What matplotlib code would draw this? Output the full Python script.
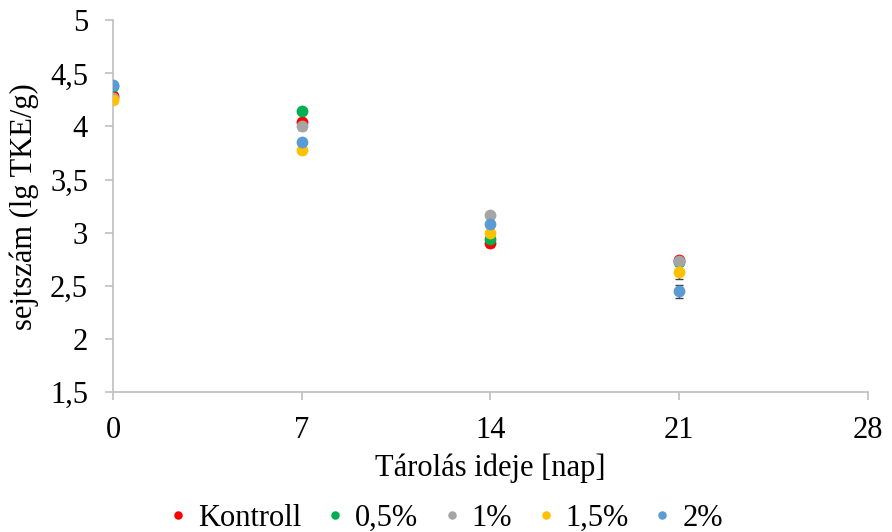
import matplotlib
matplotlib.use("Agg")
import matplotlib.pyplot as plt

days = [0, 7, 14, 21]
series_names = ["Kontroll", "0,5%", "1%", "1,5%", "2%"]
kontroll = [4.29, 4.04, 2.90, 2.74]
p05 = [4.38, 4.15, 2.945, 2.72]
p1 = [4.27, 4.00, 3.165, 2.735]
p15 = [4.25, 3.78, 3.00, 2.63]
p2 = [4.39, 3.85, 3.08, 2.45]
err_kontroll = [0.03, 0.03, 0.03, 0.02]
err_p05 = [0.02, 0.02, 0.03, 0.02]
err_p1 = [0.02, 0.03, 0.02, 0.02]
err_p15 = [0.02, 0.03, 0.03, 0.07]
err_p2 = [0.02, 0.03, 0.02, 0.06]
colors = ["#FF0000", "#00B050", "#A5A5A5", "#FFC000", "#5B9BD5"]
yticks = [1.5, 2, 2.5, 3, 3.5, 4, 4.5, 5]
ytick_labels = ["1,5", "2", "2,5", "3", "3,5", "4", "4,5", "5"]
xticks = [0, 7, 14, 21, 28]

plt.rcParams['font.family'] = ['Liberation Serif', 'DejaVu Serif']
FS = 22

fig = plt.figure(figsize=(8.92, 5.32), dpi=100)
ax = fig.add_axes([0.1267, 0.263, 0.846, 0.699])

values = [kontroll, p05, p1, p15, p2]
errs = [err_kontroll, err_p05, err_p1, err_p15, err_p2]
for name, v, e, c in zip(series_names, values, errs, colors):
    ax.errorbar(days, v, yerr=e, fmt='none', ecolor='#404040', elinewidth=1.0,
                capsize=3, capthick=1.0, zorder=2)
for name, v, c in zip(series_names, values, colors):
    ax.plot(days, v, linestyle='none', marker='o', markersize=8.5, color=c,
            markeredgewidth=0, label=name, zorder=3)

ax.set_xlim(0, 28)
ax.set_ylim(1.5, 5)
ax.set_xticks(xticks)
ax.set_yticks(yticks)
ax.set_yticklabels(ytick_labels)
for s in ["top", "right"]:
    ax.spines[s].set_visible(False)
for s in ["left", "bottom"]:
    ax.spines[s].set_color("#BFBFBF")
    ax.spines[s].set_linewidth(1.2)
ax.tick_params(axis='both', colors="#BFBFBF", labelcolor="black", labelsize=FS,
               width=1.2, length=6)
ax.tick_params(axis='y', pad=12)
ax.tick_params(axis='x', pad=11)

ax.set_xlabel("Tárolás ideje [nap]", fontsize=FS, labelpad=6)
ax.set_ylabel("sejtszám (lg TKE/g)", fontsize=FS, labelpad=8)

leg = fig.legend(loc='center', bbox_to_anchor=(0.5, 0.026), ncol=5, frameon=False,
                 fontsize=FS, handletextpad=0.35, columnspacing=0.8,
                 markerscale=0.72, handlelength=0.6, borderpad=0.0)

fig.savefig("out.png", dpi=100)
